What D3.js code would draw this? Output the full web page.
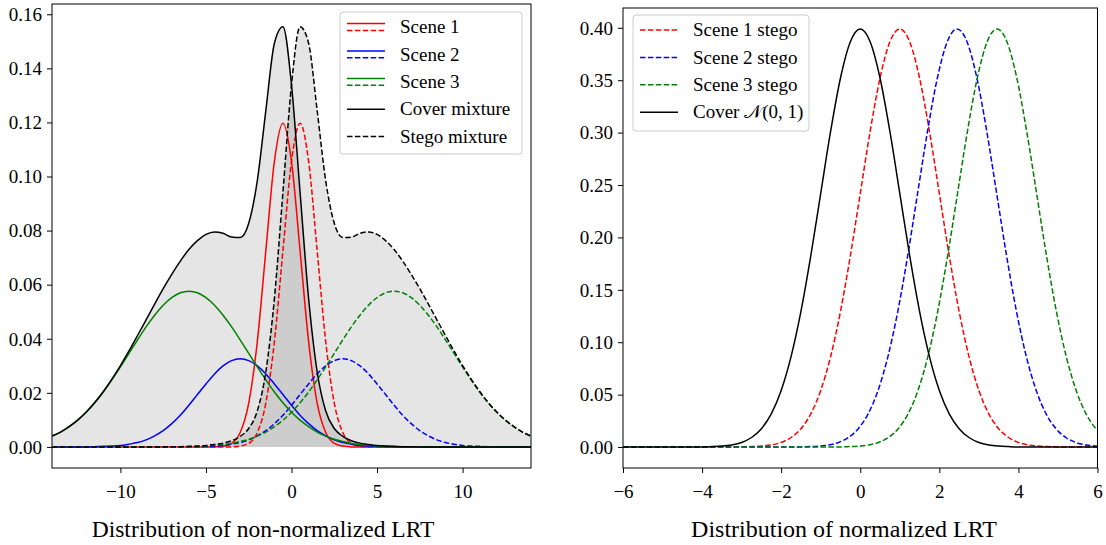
<!DOCTYPE html>
<html>
<head>
<meta charset="utf-8">
<script src="https://cdn.jsdelivr.net/npm/d3@7"></script>
<style>
  body { margin: 0; background: #fff; }
  svg { display: block; font-family: "Liberation Serif", "DejaVu Serif", serif; }
</style>
</head>
<body>
<svg id="chart"></svg>
<script>
// ---- Left panel: densities of the non-normalized LRT, sampled on a shared grid ----
const lrtGrid = [
  -14, -13.5, -13, -12.5, -12, -11.5, -11, -10.5, -10, -9.5,
  -9, -8.5, -8, -7.5, -7, -6.5, -6, -5.5, -5, -4.5,
  -4, -3.5, -3, -2.5, -2, -1.5, -1, -0.5, 0, 0.5,
  1, 1.5, 2, 2.5, 3, 3.5, 4, 4.5, 5, 5.5,
  6, 6.5, 7, 7.5, 8, 8.5, 9, 9.5, 10, 10.5,
  11, 11.5, 12, 12.5, 13, 13.5, 14
];

const scene1Cover = [
  0, 0, 0, 0, 0, 0, 0, 0, 0, 0,
  0, 0, 0, 0, 0, 0, 0, 0, 0, 0,
  0.0003, 0.0013, 0.0053, 0.0162, 0.0389, 0.0726, 0.1056, 0.1197, 0.1056, 0.0726,
  0.0389, 0.0162, 0.0053, 0.0013, 0.0003, 0, 0, 0, 0, 0,
  0, 0, 0, 0, 0, 0, 0, 0, 0, 0,
  0, 0, 0, 0, 0, 0, 0
];
const scene1Stego = [
  0, 0, 0, 0, 0, 0, 0, 0, 0, 0,
  0, 0, 0, 0, 0, 0, 0, 0, 0, 0,
  0, 0, 0.0003, 0.0013, 0.0053, 0.0162, 0.0389, 0.0726, 0.1056, 0.1197,
  0.1056, 0.0726, 0.0389, 0.0162, 0.0053, 0.0013, 0.0003, 0, 0, 0,
  0, 0, 0, 0, 0, 0, 0, 0, 0, 0,
  0, 0, 0, 0, 0, 0, 0
];
const scene2Cover = [
  0, 0, 0, 0, 0, 0.0001, 0.0002, 0.0003, 0.0005, 0.0010,
  0.0016, 0.0026, 0.0041, 0.0060, 0.0086, 0.0117, 0.0154, 0.0194, 0.0233, 0.0270,
  0.0300, 0.0319, 0.0326, 0.0319, 0.0300, 0.0270, 0.0233, 0.0194, 0.0154, 0.0117,
  0.0086, 0.0060, 0.0041, 0.0026, 0.0016, 0.0010, 0.0005, 0.0003, 0.0002, 0.0001,
  0, 0, 0, 0, 0, 0, 0, 0, 0, 0,
  0, 0, 0, 0, 0, 0, 0
];
const scene2Stego = [
  0, 0, 0, 0, 0, 0, 0, 0, 0, 0,
  0, 0, 0, 0, 0, 0, 0, 0.0001, 0.0002, 0.0003,
  0.0005, 0.0010, 0.0016, 0.0026, 0.0041, 0.0060, 0.0086, 0.0117, 0.0154, 0.0194,
  0.0233, 0.0270, 0.0300, 0.0319, 0.0326, 0.0319, 0.0300, 0.0270, 0.0233, 0.0194,
  0.0154, 0.0117, 0.0086, 0.0060, 0.0041, 0.0026, 0.0016, 0.0010, 0.0005, 0.0003,
  0.0002, 0.0001, 0, 0, 0, 0, 0
];
const scene3Cover = [
  0.0040, 0.0055, 0.0075, 0.0099, 0.0128, 0.0163, 0.0203, 0.0248, 0.0296, 0.0346,
  0.0396, 0.0444, 0.0487, 0.0524, 0.0552, 0.0570, 0.0576, 0.0570, 0.0552, 0.0524,
  0.0487, 0.0444, 0.0396, 0.0346, 0.0296, 0.0248, 0.0203, 0.0163, 0.0128, 0.0099,
  0.0075, 0.0055, 0.0040, 0.0028, 0.0020, 0.0013, 0.0009, 0.0006, 0.0004, 0.0002,
  0.0001, 0.0001, 0, 0, 0, 0, 0, 0, 0, 0,
  0, 0, 0, 0, 0, 0, 0
];
const scene3Stego = [
  0, 0, 0, 0, 0, 0, 0, 0, 0, 0,
  0, 0, 0, 0, 0, 0.0001, 0.0001, 0.0002, 0.0004, 0.0006,
  0.0009, 0.0013, 0.0020, 0.0028, 0.0040, 0.0055, 0.0075, 0.0099, 0.0128, 0.0163,
  0.0203, 0.0248, 0.0296, 0.0346, 0.0396, 0.0444, 0.0487, 0.0524, 0.0552, 0.0570,
  0.0576, 0.0570, 0.0552, 0.0524, 0.0487, 0.0444, 0.0396, 0.0346, 0.0296, 0.0248,
  0.0203, 0.0163, 0.0128, 0.0099, 0.0075, 0.0055, 0.0040
];
const coverMixture = [
  0.0040, 0.0055, 0.0075, 0.0099, 0.0129, 0.0164, 0.0205, 0.0251, 0.0301, 0.0355,
  0.0412, 0.0470, 0.0528, 0.0585, 0.0638, 0.0687, 0.0730, 0.0763, 0.0786, 0.0795,
  0.0790, 0.0776, 0.0774, 0.0827, 0.0984, 0.1244, 0.1493, 0.1554, 0.1339, 0.0942,
  0.0549, 0.0278, 0.0133, 0.0068, 0.0039, 0.0023, 0.0014, 0.0009, 0.0005, 0.0003,
  0.0002, 0.0001, 0.0001, 0, 0, 0, 0, 0, 0, 0,
  0, 0, 0, 0, 0, 0, 0
];
const stegoMixture = [
  0, 0, 0, 0, 0, 0, 0, 0, 0, 0,
  0, 0, 0, 0, 0.0001, 0.0001, 0.0002, 0.0003, 0.0005, 0.0009,
  0.0014, 0.0023, 0.0039, 0.0068, 0.0133, 0.0278, 0.0549, 0.0942, 0.1339, 0.1554,
  0.1493, 0.1244, 0.0984, 0.0827, 0.0774, 0.0776, 0.0790, 0.0795, 0.0786, 0.0763,
  0.0730, 0.0687, 0.0638, 0.0585, 0.0528, 0.0470, 0.0412, 0.0355, 0.0301, 0.0251,
  0.0205, 0.0164, 0.0129, 0.0099, 0.0075, 0.0055, 0.0040
];

// ---- Right panel: normalized LRT, every curve has the same unit-variance shape ----
const normDensity = [
  0, 0.0001, 0.0004, 0.0009, 0.0020, 0.0044, 0.0091, 0.0175, 0.0317, 0.0540,
  0.0863, 0.1295, 0.1826, 0.2420, 0.3011, 0.3521, 0.3867, 0.3989, 0.3867, 0.3521,
  0.3011, 0.2420, 0.1826, 0.1295, 0.0863, 0.0540, 0.0317, 0.0175, 0.0091, 0.0044,
  0.0020, 0.0009, 0.0004, 0.0001, 0
];
const coverNormX = [
  -6, -4, -3.75, -3.5, -3.25, -3, -2.75, -2.5, -2.25, -2,
  -1.75, -1.5, -1.25, -1, -0.75, -0.5, -0.25, 0, 0.25, 0.5,
  0.75, 1, 1.25, 1.5, 1.75, 2, 2.25, 2.5, 2.75, 3,
  3.25, 3.5, 3.75, 4, 6
];
const scene1NormX = [
  -6, -3, -2.75, -2.5, -2.25, -2, -1.75, -1.5, -1.25, -1,
  -0.75, -0.5, -0.25, 0, 0.25, 0.5, 0.75, 1, 1.25, 1.5,
  1.75, 2, 2.25, 2.5, 2.75, 3, 3.25, 3.5, 3.75, 4,
  4.25, 4.5, 4.75, 5, 7
];
const scene2NormX = [
  -6, -1.55, -1.3, -1.05, -0.8, -0.55, -0.3, -0.05, 0.2, 0.45,
  0.7, 0.95, 1.2, 1.45, 1.7, 1.95, 2.2, 2.45, 2.7, 2.95,
  3.2, 3.45, 3.7, 3.95, 4.2, 4.45, 4.7, 4.95, 5.2, 5.45,
  5.7, 5.95, 6.2, 6.45, 8
];
const scene3NormX = [
  -6, -0.54, -0.29, -0.04, 0.21, 0.46, 0.71, 0.96, 1.21, 1.46,
  1.71, 1.96, 2.21, 2.46, 2.71, 2.96, 3.21, 3.46, 3.71, 3.96,
  4.21, 4.46, 4.71, 4.96, 5.21, 5.46, 5.71, 5.96, 6.21, 6.46,
  6.71, 6.96, 7.21, 7.46, 8
];

// Tick values
const leftXTicks = [-10, -5, 0, 5, 10];
const leftYTicks = [0, 0.02, 0.04, 0.06, 0.08, 0.10, 0.12, 0.14, 0.16];
const rightXTicks = [-6, -4, -2, 0, 2, 4, 6];
const rightYTicks = [0, 0.05, 0.10, 0.15, 0.20, 0.25, 0.30, 0.35, 0.40];

// Canvas
const width = 1106;
const height = 545;
const svg = d3.select("#chart")
    .attr("width", width)
    .attr("height", height);

const dash = "5.5,2.4";
const lineWidth = 1.5;

// Scales for both panels
const xLeft = d3.scaleLinear().domain([-14, 14]).range([52, 531]);
const yLeft = d3.scaleLinear().domain([-0.0078, 0.1638]).range([468, 4]);
const xRight = d3.scaleLinear().domain([-6, 6]).range([623, 1097.5]);
const yRight = d3.scaleLinear().domain([-0.02, 0.4189]).range([468, 8]);

// Build a clipped plotting group for a panel
function makePanel(id, x, y) {
    const [x0, x1] = x.range();
    const [y1, y0] = y.range();
    svg.append("clipPath").attr("id", id)
        .append("rect")
        .attr("x", x0).attr("y", y0)
        .attr("width", x1 - x0).attr("height", y1 - y0);
    return svg.append("g").attr("clip-path", `url(#${id})`);
}

// Function to draw axes, ticks and the box around a panel
function drawAxes(x, y, xTicks, yTicks) {
    const [x0, x1] = x.range();
    const [y1, y0] = y.range();

    const gx = svg.append("g")
        .attr("transform", `translate(0,${y1})`)
        .call(d3.axisBottom(x).tickValues(xTicks).tickFormat(d3.format("d"))
            .tickSize(5).tickSizeOuter(0));
    gx.select(".domain").remove();
    gx.selectAll("text")
        .attr("y", 30).attr("dy", null)
        .style("font-size", "19px")
        .style("font-family", '"Liberation Serif", serif')
        .attr("fill", "#000");

    const gy = svg.append("g")
        .attr("transform", `translate(${x0},0)`)
        .call(d3.axisLeft(y).tickValues(yTicks).tickFormat(d3.format(".2f"))
            .tickSize(5).tickSizeOuter(0));
    gy.select(".domain").remove();
    gy.selectAll("text")
        .attr("x", -10).attr("dy", "0.33em")
        .style("font-size", "19px")
        .style("font-family", '"Liberation Serif", serif')
        .attr("fill", "#000");

    svg.selectAll(".tick line").attr("stroke", "#000").attr("stroke-width", 1);

    svg.append("rect")
        .attr("x", x0).attr("y", y0)
        .attr("width", x1 - x0).attr("height", y1 - y0)
        .attr("fill", "none")
        .attr("stroke", "#000")
        .attr("stroke-width", 1);
}

// Function to draw one density curve
function drawCurve(g, x, y, xs, ys, color, dashed) {
    const line = d3.line()
        .x((d, i) => x(xs[i]))
        .y(d => y(d))
        .curve(d3.curveMonotoneX);
    g.append("path")
        .datum(ys)
        .attr("d", line)
        .attr("fill", "none")
        .attr("stroke", color)
        .attr("stroke-width", lineWidth)
        .attr("stroke-dasharray", dashed ? dash : null);
}

// Function to add a legend box
function drawLegend(box, items) {
    const g = svg.append("g");
    g.append("rect")
        .attr("x", box.x).attr("y", box.y)
        .attr("width", box.w).attr("height", box.h)
        .attr("rx", 3)
        .attr("fill", "#fff").attr("fill-opacity", 0.8)
        .attr("stroke", "#cccccc").attr("stroke-width", 1);

    items.forEach((d, i) => {
        const cy = box.y + 15 + i * 27.4;
        const hx0 = box.x + 7;
        const hx1 = box.x + 45;
        const handles = d.styles.length === 2
            ? [{ dashed: false, dy: -3.4 }, { dashed: true, dy: 3.4 }]
            : [{ dashed: d.styles[0] === "dashed", dy: 0 }];
        handles.forEach(h => {
            g.append("line")
                .attr("x1", hx0).attr("x2", hx1)
                .attr("y1", cy + h.dy).attr("y2", cy + h.dy)
                .attr("stroke", d.color)
                .attr("stroke-width", lineWidth)
                .attr("stroke-dasharray", h.dashed ? dash : null);
        });
        const t = g.append("text")
            .attr("x", box.x + 60)
            .attr("y", cy)
            .attr("dy", "0.33em")
            .style("font-size", "19px")
            .attr("fill", "#000");
        if (d.math) {
            t.append("tspan").text(d.label);
            t.append("tspan").text(d.math);
            t.append("tspan").text(d.tail);
        } else {
            t.text(d.label);
        }
    });
}

// ---------------- Left panel ----------------
const gLeft = makePanel("clipLeft", xLeft, yLeft);

const area = d3.area()
    .x((d, i) => xLeft(lrtGrid[i]))
    .y0(yLeft(0))
    .y1(d => yLeft(d))
    .curve(d3.curveMonotoneX);

[coverMixture, stegoMixture].forEach(series => {
    gLeft.append("path")
        .datum(series)
        .attr("d", area)
        .attr("fill", "#000")
        .attr("fill-opacity", 0.1);
});

const leftSeries = [
    { cover: scene1Cover, stego: scene1Stego, color: "#ff0000" },
    { cover: scene2Cover, stego: scene2Stego, color: "#0000ff" },
    { cover: scene3Cover, stego: scene3Stego, color: "#008000" }
];
leftSeries.forEach(s => {
    drawCurve(gLeft, xLeft, yLeft, lrtGrid, s.cover, s.color, false);
    drawCurve(gLeft, xLeft, yLeft, lrtGrid, s.stego, s.color, true);
});
drawCurve(gLeft, xLeft, yLeft, lrtGrid, coverMixture, "#000", false);
drawCurve(gLeft, xLeft, yLeft, lrtGrid, stegoMixture, "#000", true);

drawAxes(xLeft, yLeft, leftXTicks, leftYTicks);

drawLegend({ x: 340, y: 12, w: 182, h: 142 }, [
    { label: "Scene 1", color: "#ff0000", styles: ["solid", "dashed"] },
    { label: "Scene 2", color: "#0000ff", styles: ["solid", "dashed"] },
    { label: "Scene 3", color: "#008000", styles: ["solid", "dashed"] },
    { label: "Cover mixture", color: "#000", styles: ["solid"] },
    { label: "Stego mixture", color: "#000", styles: ["dashed"] }
]);

// ---------------- Right panel ----------------
const gRight = makePanel("clipRight", xRight, yRight);

drawCurve(gRight, xRight, yRight, scene1NormX, normDensity, "#ff0000", true);
drawCurve(gRight, xRight, yRight, scene2NormX, normDensity, "#0000ff", true);
drawCurve(gRight, xRight, yRight, scene3NormX, normDensity, "#008000", true);
drawCurve(gRight, xRight, yRight, coverNormX, normDensity, "#000", false);

drawAxes(xRight, yRight, rightXTicks, rightYTicks);

drawLegend({ x: 633, y: 15, w: 176, h: 116 }, [
    { label: "Scene 1 stego", color: "#ff0000", styles: ["dashed"] },
    { label: "Scene 2 stego", color: "#0000ff", styles: ["dashed"] },
    { label: "Scene 3 stego", color: "#008000", styles: ["dashed"] },
    { label: "Cover ", math: "\u{1D4A9}", tail: "(0, 1)", color: "#000", styles: ["solid"] }
]);

// ---------------- Captions ----------------
svg.append("text")
    .attr("x", 263).attr("y", 537)
    .attr("text-anchor", "middle")
    .style("font-size", "23.5px")
    .text("Distribution of non-normalized LRT");

svg.append("text")
    .attr("x", 844).attr("y", 537)
    .attr("text-anchor", "middle")
    .style("font-size", "24px")
    .text("Distribution of normalized LRT");
</script>
</body>
</html>
